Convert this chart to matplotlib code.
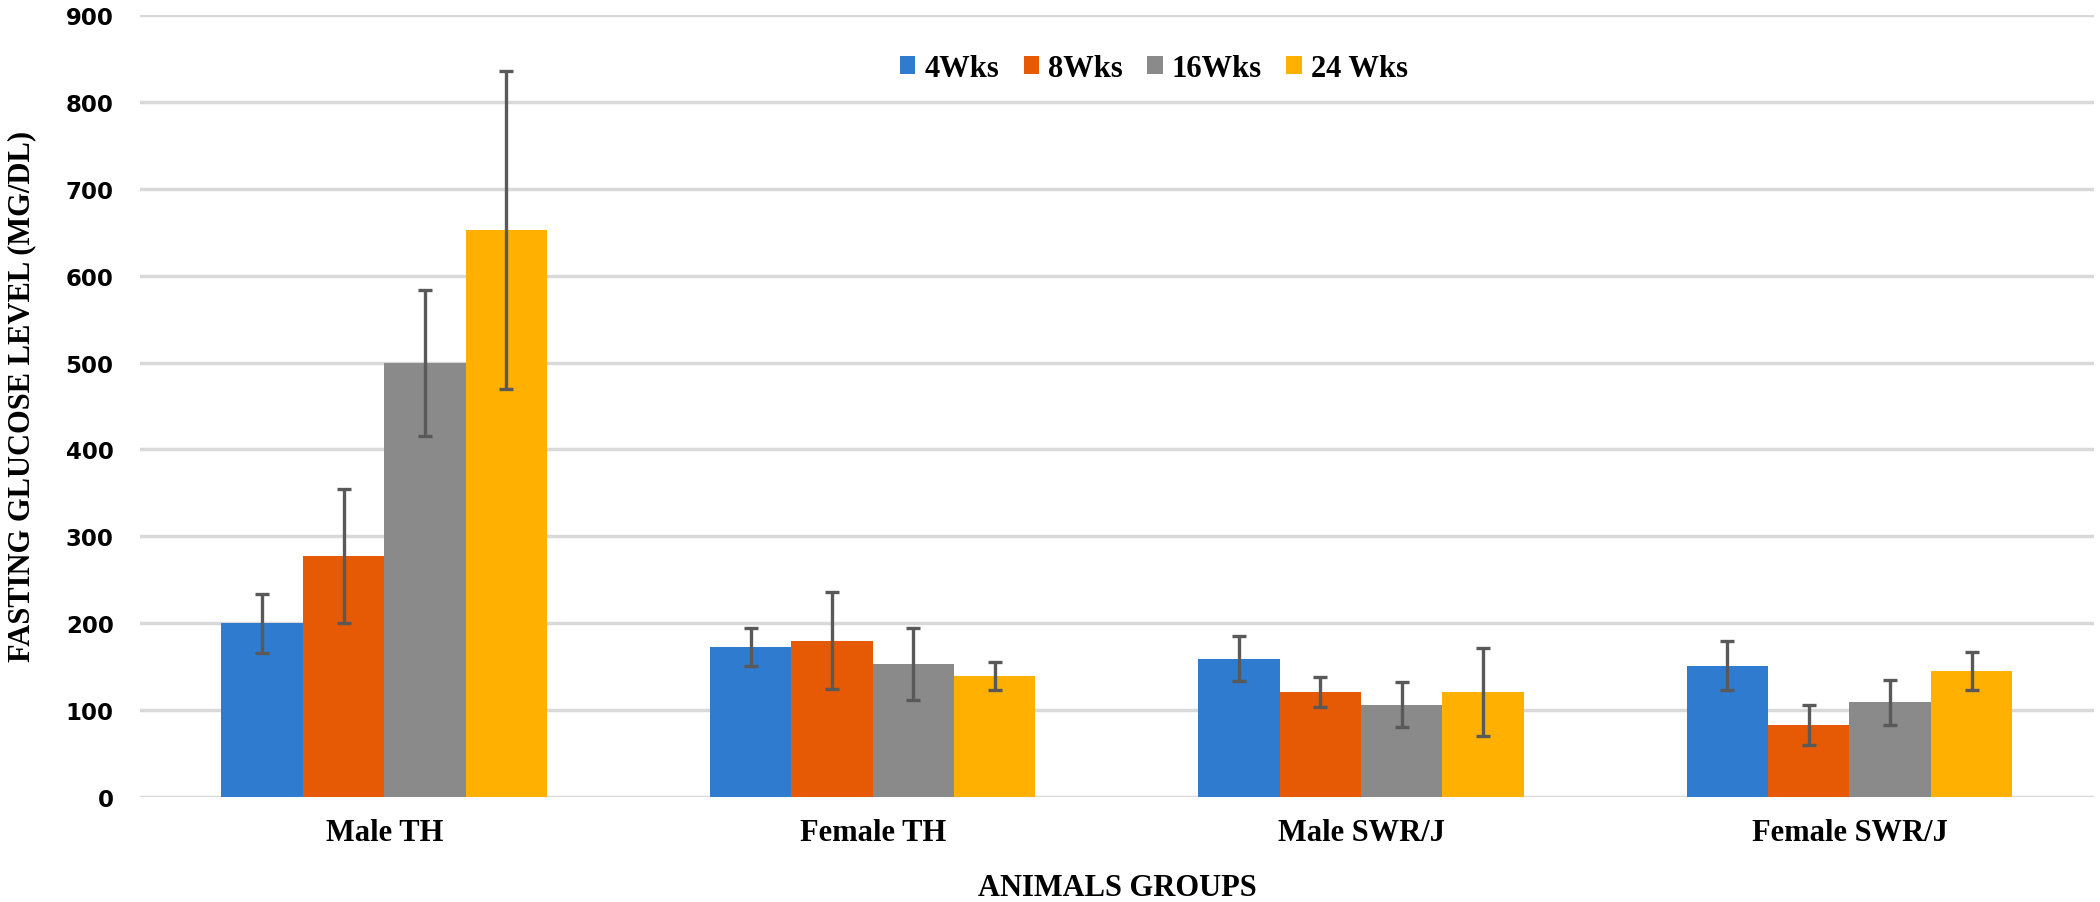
import matplotlib
matplotlib.use('Agg')
import matplotlib.pyplot as plt
import numpy as np

# data
groups = ['Male TH', 'Female TH', 'Male SWR/J', 'Female SWR/J']
weeks = ['4Wks', '8Wks', '16Wks', '24 Wks']
means = [
	[200, 173, 159, 151],   # 4Wks
	[277, 180, 121, 83],    # 8Wks
	[500, 153, 106, 109],   # 16Wks
	[652, 139, 121, 145],   # 24 Wks
]
errs = [
	[34, 22, 26, 28],
	[77, 56, 17, 23],
	[84, 41, 26, 26],
	[183, 16, 51, 22],
]
colors = ['#2E7BCF', '#E65A06', '#8A8A8A', '#FFB000']

serif = 'Liberation Serif'

fig = plt.figure(figsize = (21, 9.03), dpi = 100)
ax = fig.add_axes([0.0667, 0.1163, 0.9303, 0.866])

x = np.arange(len(groups))
width = 1 / 6
for i, (m, e, c) in enumerate(zip(means, errs, colors)) :
	ax.bar(x + (i - 1.5) * width, m, width, color = c, label = weeks[i], zorder = 2,
		yerr = e, capsize = 5, error_kw = dict(ecolor = '#595959', elinewidth = 2.4, capthick = 2.4, zorder = 3))

ax.set_xlim(-0.5, len(groups) - 0.5)
ax.set_ylim(0, 900)
ax.set_yticks(range(0, 901, 100))
ax.yaxis.grid(True, color = '#D9D9D9', linewidth = 2.5, zorder = 0)
ax.set_axisbelow(True)
for s in ax.spines.values() :
	s.set_visible(False)
ax.tick_params(axis = 'both', length = 0)
ax.tick_params(axis = 'y', pad = 19)
ax.tick_params(axis = 'x', pad = 15)

ax.set_xticks(x)
ax.set_xticklabels(groups, fontfamily = serif, fontweight = 'bold', fontsize = 22)
for t in ax.get_yticklabels() :
	t.set_fontfamily('DejaVu Sans')
	t.set_fontweight('bold')
	t.set_fontsize(16.5)

ax.set_xlabel('ANIMALS GROUPS', fontfamily = serif, fontweight = 'bold', fontsize = 22, labelpad = 19)
ax.set_ylabel('FASTING GLUCOSE LEVEL (MG/DL)', fontfamily = serif, fontweight = 'bold', fontsize = 22)
ax.yaxis.set_label_coords(-0.053, 0.513)

ax.legend(loc = 'center', bbox_to_anchor = (0.519, 0.932), ncol = 4, frameon = False,
	prop = dict(family = serif, weight = 'bold', size = 22), handlelength = 0.5, handleheight = 0.5,
	handletextpad = 0.3, columnspacing = 0.8)

fig.savefig('out.png', dpi = 100)
